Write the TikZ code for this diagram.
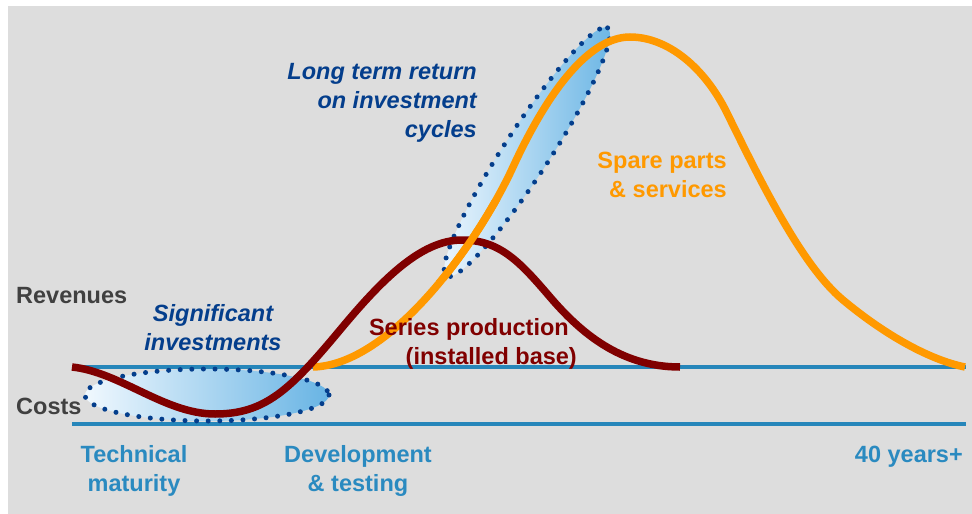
\documentclass[tikz,border=0pt]{standalone}
\usepackage{fontspec}
\setmainfont{Liberation Sans}
\usepackage{xcolor}
\usepackage{tikz}

\definecolor{bggrey}{RGB}{221,221,221}
\definecolor{axisblue}{RGB}{38,134,186}
\definecolor{phaseblue}{RGB}{42,138,192}
\definecolor{navy}{RGB}{4,62,140}
\definecolor{seriesred}{RGB}{128,0,0}
\definecolor{spareorange}{RGB}{255,153,0}
\definecolor{txtgrey}{RGB}{64,64,64}
\definecolor{skylight}{RGB}{240,248,254}
\definecolor{skydark}{RGB}{104,180,228}

\begin{document}
\begin{tikzpicture}[x=1pt,y=-1pt,
  every node/.style={inner sep=0pt,font=\fontsize{23.5}{29}\selectfont\bfseries},
  axis/.style={axisblue,line width=3.6pt},
  curve/.style={line width=7.5pt},
  phase/.style={text=phaseblue,align=center},
  note/.style={text=navy,font=\fontsize{23.5}{29}\selectfont\bfseries\itshape},
  blob/.style={draw=navy,line width=5pt,line cap=round,dash pattern=on 0pt off 11.6pt,
    left color=skylight,right color=skydark}]
  \useasboundingbox (0,0) rectangle (972,514);
  \fill[bggrey] (8,6) rectangle (972,514);

  % axis lines
  \draw[axis] (72,367) -- (966,367);
  \draw[axis] (72,424) -- (966,424);

  % highlighted areas
  \path[blob] (207,395) ellipse [x radius=122, y radius=26];
  \path[blob,rotate around={57:(527,152)}] (527,152) ellipse [x radius=148, y radius=23];

  % spare parts & services
  \draw[curve,spareorange] (313,367) .. controls (390,365) and (477,245) .. (513,167)
    .. controls (549,89) and (590,37) .. (630,37)
    .. controls (668,37) and (705,68) .. (727,113)
    .. controls (759,178) and (801,265) .. (843,300)
    .. controls (885,335) and (930,360) .. (965,367);
  % series production
  \draw[curve,seriesred] (72,367) .. controls (120,372) and (165,414) .. (215,414)
    .. controls (265,414) and (290,390) .. (340,330)
    .. controls (380,282) and (420,240) .. (462,240)
    .. controls (500,240) and (520,262) .. (550,297)
    .. controls (580,332) and (620,367) .. (680,367);
  \begin{scope}
    \clip (420,200) rectangle (520,280);
    \draw[curve,spareorange] (313,367) .. controls (390,365) and (477,245) .. (513,167);
  \end{scope}

  % labels
  \node[anchor=base west,text=txtgrey] (rev) at (16,303) {Revenues};
  \node[anchor=base west,text=txtgrey] (cost) at (16,414) {Costs};
  \node[note,align=center,anchor=base] (invest) at (213,350) {Significant\\investments};
  \node[note,align=right,anchor=base east] (return) at (477,137) {Long term return\\on investment\\cycles};
  \node[text=spareorange,align=right,anchor=base east] (spare) at (727,197) {Spare parts\\\& services};
  \node[text=seriesred,align=right,anchor=base east] (series) at (577,364) {Series production\hspace*{8pt}\\(installed base)};
  \node[phase,anchor=base] (tech) at (134,491) {Technical\\maturity};
  \node[phase,anchor=base] (dev) at (358,491) {Development\\\& testing};
  \node[anchor=base east,text=phaseblue] (years) at (963,462) {40 years+};
\end{tikzpicture}
\end{document}
